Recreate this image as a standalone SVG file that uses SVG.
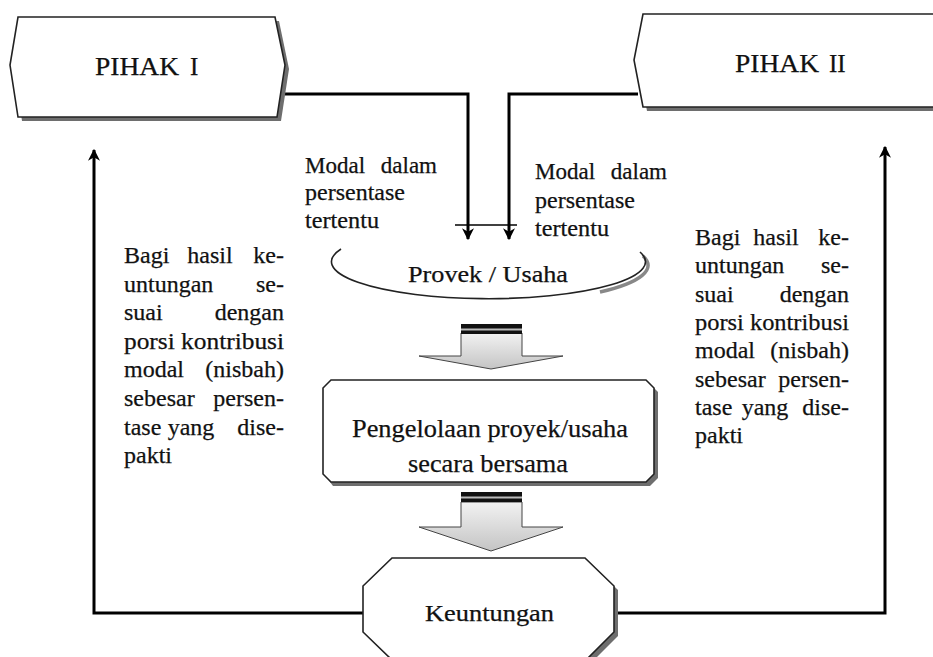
<svg xmlns="http://www.w3.org/2000/svg" width="933" height="657" viewBox="0 0 933 657">
<style>
.t{font-family:"Liberation Serif","Times New Roman",serif;fill:#111;stroke:#111;stroke-width:0.25}
.sh{fill:#6e6e6e;stroke:none}
.nd{fill:#fff;stroke:#222;stroke-width:1.6}
.cn{fill:none;stroke:#000;stroke-width:3}
.ba{fill:url(#g);stroke:#444;stroke-width:1}
</style>
<defs>
<marker id="ah" viewBox="0 0 10 10" refX="9" refY="5" markerWidth="4" markerHeight="4.4" orient="auto" markerUnits="strokeWidth">
<path d="M0,0 L10,5 L0,10 L3,5 Z" fill="#000"/>
</marker>
<linearGradient id="g" x1="0" y1="0" x2="0" y2="1">
<stop offset="0" stop-color="#f2f2f2"/>
<stop offset="1" stop-color="#c4c4c4"/>
</linearGradient>
</defs>
<rect width="933" height="657" fill="#fff"/>

<g id="connectors">
<path class="cn" d="M285 94 H468 V239" marker-end="url(#ah)"/>
<path class="cn" d="M638 94 H509 V239" marker-end="url(#ah)"/>
<path d="M455 225 H517" stroke="#000" stroke-width="1.3" fill="none"/>
<path class="cn" d="M363 613 H94 V150" marker-end="url(#ah)"/>
<path class="cn" d="M614 613 H885 V147" marker-end="url(#ah)"/>
</g>

<g id="pihak1">
<polygon class="sh" points="22,21 279,21 289,69 281,121 22,121 14,69"/>
<polygon class="nd" points="18,17 275,17 285,65 277,117 18,117 10,65"/>
<text class="t" x="95" y="75" font-size="25" textLength="84" lengthAdjust="spacingAndGlyphs">PIHAK</text>
<text class="t" x="190" y="75" font-size="25">I</text>
</g>

<g id="pihak2">
<polygon class="sh" points="647,18 945,18 945,111 647,111 638,64"/>
<polygon class="nd" points="643,14 945,14 945,107 643,107 634,60"/>
<text class="t" x="735" y="72" font-size="25" textLength="84" lengthAdjust="spacingAndGlyphs">PIHAK</text>
<text class="t" x="829" y="72" font-size="25">II</text>
</g>

<g id="modal1">
<text class="t" x="305" y="173" font-size="23">Modal</text>
<text class="t" x="437" y="173" font-size="23" text-anchor="end">dalam</text>
<text class="t" x="305" y="200" font-size="23" textLength="100" lengthAdjust="spacingAndGlyphs">persentase</text>
<text class="t" x="305" y="228" font-size="23" textLength="74" lengthAdjust="spacingAndGlyphs">tertentu</text>
</g>

<g id="modal2">
<text class="t" x="535" y="179" font-size="23">Modal</text>
<text class="t" x="667" y="179" font-size="23" text-anchor="end">dalam</text>
<text class="t" x="535" y="208" font-size="23" textLength="100" lengthAdjust="spacingAndGlyphs">persentase</text>
<text class="t" x="535" y="236" font-size="23" textLength="74" lengthAdjust="spacingAndGlyphs">tertentu</text>
</g>

<g id="proyek">
<path d="M600 292 A157 37 0 0 0 643 256" fill="none" stroke="#888" stroke-width="3.5"/>
<path d="M341 249 A157 37 0 1 0 640 252" fill="none" stroke="#222" stroke-width="1.6"/>
<text class="t" x="408" y="282" font-size="23" textLength="160" lengthAdjust="spacingAndGlyphs">Provek / Usaha</text>
</g>

<g id="arrow1">
<polygon class="ba" points="461,333 522,333 522,356 563,356 491,369 419,356 461,356"/>
<rect x="461" y="324" width="61" height="10" fill="#111"/>
<rect x="461" y="328.5" width="61" height="2" fill="#bbb"/>
</g>

<g id="pengelolaan">
<polygon class="sh" points="333,384 650,384 658,392 658,478 650,486 333,486 327,478 327,392"/>
<polygon class="nd" points="331,380 646,380 654,388 654,474 646,482 331,482 323,474 323,388"/>
<text class="t" x="352" y="437" font-size="26" textLength="276" lengthAdjust="spacingAndGlyphs">Pengelolaan proyek/usaha</text>
<text class="t" x="408" y="472" font-size="26" textLength="160" lengthAdjust="spacingAndGlyphs">secara bersama</text>
</g>

<g id="arrow2">
<polygon class="ba" points="461,502 522,502 522,527 563,527 491,551 419,527 461,527"/>
<rect x="461" y="492" width="61" height="10" fill="#111"/>
<rect x="461" y="496.5" width="61" height="2" fill="#bbb"/>
</g>

<g id="keuntungan">
<polygon class="sh" points="396,562 589,562 618,590 618,636 590,664 396,664 367,636 367,590"/>
<polygon class="nd" points="392,558 585,558 614,586 614,632 586,660 392,660 363,632 363,586"/>
<text class="t" x="425" y="621" font-size="23" textLength="129" lengthAdjust="spacingAndGlyphs">Keuntungan</text>
</g>

<g id="bagi1" class="t" font-size="24">
<text x="124" y="263">Bagi</text><text x="210" y="263" text-anchor="middle">hasil</text><text x="284" y="263" text-anchor="end">ke-</text>
<text x="124" y="291.6">untungan</text><text x="284" y="291.6" text-anchor="end">se-</text>
<text x="124" y="320.2">suai</text><text x="284" y="320.2" text-anchor="end">dengan</text>
<text x="124" y="348.8" textLength="160" lengthAdjust="spacingAndGlyphs">porsi kontribusi</text>
<text x="124" y="377.4">modal</text><text x="284" y="377.4" text-anchor="end">(nisbah)</text>
<text x="124" y="406">sebesar</text><text x="284" y="406" text-anchor="end">persen-</text>
<text x="124" y="434.6">tase</text><text x="191" y="434.6" text-anchor="middle">yang</text><text x="284" y="434.6" text-anchor="end">dise-</text>
<text x="124" y="463.2">pakti</text>
</g>

<g id="bagi2" class="t" font-size="24">
<text x="695" y="245">Bagi</text><text x="776" y="245" text-anchor="middle">hasil</text><text x="849" y="245" text-anchor="end">ke-</text>
<text x="695" y="273.3">untungan</text><text x="849" y="273.3" text-anchor="end">se-</text>
<text x="695" y="301.6">suai</text><text x="849" y="301.6" text-anchor="end">dengan</text>
<text x="695" y="329.9" textLength="154" lengthAdjust="spacingAndGlyphs">porsi kontribusi</text>
<text x="695" y="358.2">modal</text><text x="849" y="358.2" text-anchor="end">(nisbah)</text>
<text x="695" y="386.5">sebesar</text><text x="849" y="386.5" text-anchor="end">persen-</text>
<text x="695" y="414.8">tase</text><text x="765" y="414.8" text-anchor="middle">yang</text><text x="849" y="414.8" text-anchor="end">dise-</text>
<text x="695" y="443.1">pakti</text>
</g>
</svg>
